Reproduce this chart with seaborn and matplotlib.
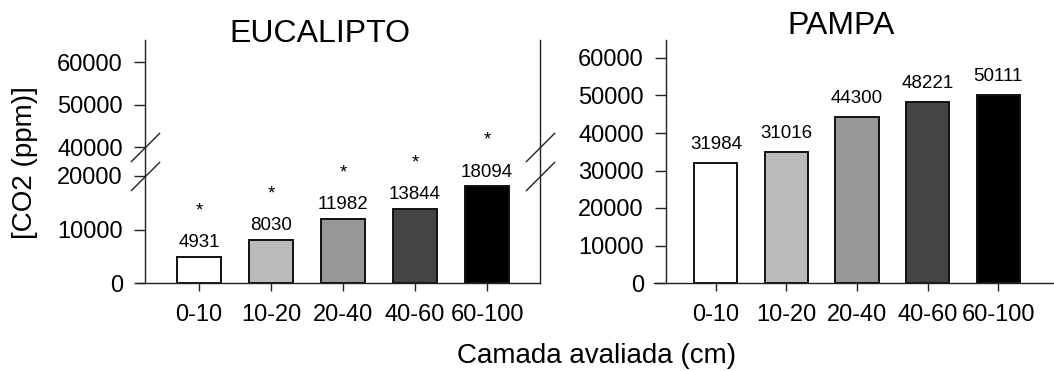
import numpy as np
import pandas as pd
import matplotlib
matplotlib.use('Agg')
import matplotlib.pyplot as plt
import matplotlib.transforms as mtransforms
import seaborn as sns

sns.set_style("ticks")
plt.rcParams['font.family'] = ['Liberation Sans', 'DejaVu Sans']
plt.rcParams['text.color'] = 'black'
plt.rcParams['xtick.color'] = '#222222'
plt.rcParams['ytick.color'] = '#222222'
plt.rcParams['xtick.labelcolor'] = 'black'
plt.rcParams['ytick.labelcolor'] = 'black'

# dados
camadas = ['0-10', '10-20', '20-40', '40-60', '60-100']
cores = ['#ffffff', '#bbbbbb', '#979797', '#444444', '#000000']

euc_valores = [4931, 8030, 11982, 13844, 18094]
euc_rotulos = ['4931', '8030', '11982', '13844', '18094']
euc_yticks = [0, 10000, 20000, 40000, 50000, 60000]

pampa_valores = [31984, 35000, 44300, 48221, 50111]
pampa_rotulos = ['31984', '31016', '44300', '48221', '50111']
pampa_yticks = [0, 10000, 20000, 30000, 40000, 50000, 60000]

# eixo quebrado: 0-20000 em baixo, 40000-65200 em cima (escala em pixels)
quebra_dados = [0, 20000, 40000, 65200]
quebra_px = [0, 107, 136, 243]

W, H = 1054, 371


def fwd(y):
    return np.interp(y, quebra_dados, quebra_px)


def inv(p):
    return np.interp(p, quebra_px, quebra_dados)


def caixa(x0, x1, y_top=40, y_bot=283):
    return [x0 / W, (H - y_bot) / H, (x1 - x0) / W, (y_bot - y_top) / H]


def barras(ax, valores, recuo_px, largura_px):
    df = pd.DataFrame({'camada': camadas, 'co2': valores})
    sns.barplot(data=df, x='camada', y='co2', hue='camada', palette=cores,
                legend=False, edgecolor='#111111', linewidth=1.4, width=0.61,
                saturation=1, ax=ax)
    ax.set_xlabel('')
    ax.set_ylabel('')
    ax.tick_params(axis='y', direction='out', length=8, width=1,
                   labelsize=17, pad=8)
    ax.tick_params(axis='x', direction='out', length=6, width=1,
                   labelsize=17, pad=9)
    ax.yaxis.set_ticks_position('left')
    ax.xaxis.set_ticks_position('bottom')
    ax.spines['top'].set_visible(False)
    ax.spines['left'].set_position(('axes', recuo_px / largura_px))
    for s in ax.spines.values():
        s.set_linewidth(1)
        s.set_color('#222222')


fig = plt.figure(figsize=(W / 100, H / 100), dpi=100)
ax1 = fig.add_axes(caixa(137, 540))
ax2 = fig.add_axes(caixa(654, 1054))

# EUCALIPTO
barras(ax1, euc_valores, 8, 403)
ax1.set_yscale('function', functions=(fwd, inv))
ax1.set_ylim(0, 65200)
ax1.set_xlim(-0.861, 4.736)
ax1.set_yticks(euc_yticks, [str(v) for v in euc_yticks])
for i, (v, r) in enumerate(zip(euc_valores, euc_rotulos)):
    ax1.annotate(r, (i, v), xytext=(0, 4), textcoords='offset points',
                 ha='center', va='bottom', fontsize=13.5)
    ax1.annotate('*', (i, v), xytext=(0, 27), textcoords='offset points',
                 ha='center', va='bottom', fontsize=13.5)

# marcas da quebra nos dois lados do eixo
trans = mtransforms.blended_transform_factory(ax1.transAxes, ax1.transData)
for xq in [8 / 403, 1]:
    ax1.plot([xq, xq], [20000, 40000], linestyle='none', marker=[(-1, -1), (1, 1)],
             markersize=21, markeredgewidth=1, color='#222222',
             transform=trans, clip_on=False)

# PAMPA
barras(ax2, pampa_valores, 12, 400)
ax2.set_ylim(0, 64800)
ax2.set_xlim(-0.879, 4.794)
ax2.set_yticks(pampa_yticks, [str(v) for v in pampa_yticks])
ax2.spines['right'].set_visible(False)
for i, (v, r) in enumerate(zip(pampa_valores, pampa_rotulos)):
    ax2.annotate(r, (i, v), xytext=(0, 7), textcoords='offset points',
                 ha='center', va='bottom', fontsize=13.5)

fig.text(320 / W, 1 - 33.5 / H, 'EUCALIPTO', ha='center', va='center', fontsize=23)
fig.text(841 / W, 1 - 26 / H, 'PAMPA', ha='center', va='center', fontsize=23)
fig.text(25 / W, 1 - 163 / H, '[CO2 (ppm)]', rotation=90, ha='center',
         va='center', fontsize=20)
fig.text(597 / W, 1 - 356 / H, 'Camada avaliada (cm)', ha='center',
         va='center', fontsize=20)

fig.savefig('out.png', dpi=100)
